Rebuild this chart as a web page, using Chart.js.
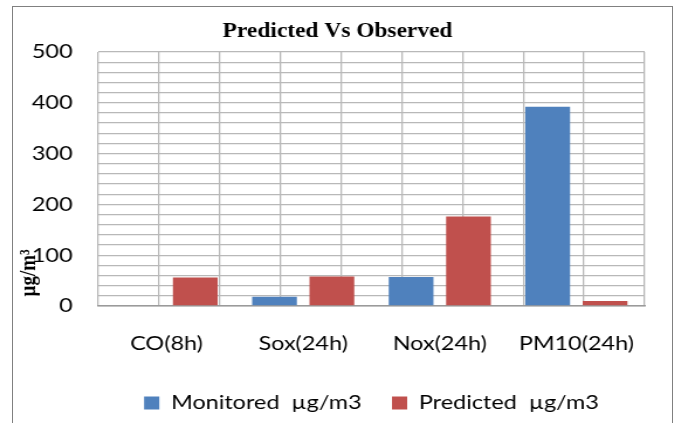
<!DOCTYPE html>
<html>
<head>
<meta charset="utf-8">
<script src="https://cdn.jsdelivr.net/npm/chart.js@4/dist/chart.umd.min.js"></script>
<style>
    body { margin: 0; background: #fff; }
    #page { position: relative; width: 675px; height: 423px; overflow: hidden; }
    #frame { position: absolute; left: 12px; top: 6px; width: 659px; height: 440px; border: 1.5px solid #808080; }
    /* the original picture is stretched sideways, so the canvas is too */
    #wrap { position: absolute; left: 0; top: 0; transform: scaleX(1.17); transform-origin: 0 0; }
</style>
</head>
<body>
<div id="page">
    <div id="frame"></div>
    <div id="wrap"><canvas id="chart" width="577" height="423"></canvas></div>
</div>
<script>
// Data
const categories = ['CO(8h)', 'Sox(24h)', 'Nox(24h)', 'PM10(24h)'];
const monitored = [0, 18, 57, 392];
const predicted = [56, 58, 176, 10];
const seriesNames = ['Monitored  µg/m3', 'Predicted  µg/m3'];
const yTicks = [0, 100, 200, 300, 400, 500];

document.addEventListener('DOMContentLoaded', function() {
    const ctx = document.getElementById('chart').getContext('2d');
    const gridColor = '#b8b8b8';

    Chart.defaults.color = '#000';
    Chart.defaults.font.family = 'Lato';

    new Chart(ctx, {
        type: 'bar',
        data: {
            labels: categories,
            datasets: [{
                label: seriesNames[0],
                data: monitored,
                backgroundColor: '#4f81bd',
                categoryPercentage: 0.84,
                barPercentage: 0.78
            }, {
                label: seriesNames[1],
                data: predicted,
                backgroundColor: '#c0504d',
                categoryPercentage: 0.84,
                barPercentage: 0.78
            }]
        },
        options: {
            responsive: false,
            devicePixelRatio: 1,
            animation: false,
            layout: { padding: 0 },
            plugins: {
                title: {
                    display: true,
                    text: 'Predicted Vs Observed',
                    font: { family: 'Liberation Serif', size: 20, weight: 'bold' },
                    padding: { top: 20, bottom: 8 }
                },
                legend: {
                    position: 'bottom',
                    fullSize: false,
                    labels: {
                        boxWidth: 13,
                        boxHeight: 13,
                        padding: 26,
                        font: { size: 20 }
                    }
                },
                tooltip: { enabled: false }
            },
            scales: {
                x: {
                    grid: { display: false },
                    border: { color: '#9a9a9a', width: 1.5 },
                    ticks: { padding: 18, font: { size: 20 } },
                    afterFit: function(scale) { scale.height = 61; }
                },
                x2: {
                    type: 'linear',
                    position: 'top',
                    min: 0,
                    max: categories.length * 2,
                    grid: { color: gridColor, lineWidth: 1.3, drawTicks: false },
                    border: { display: false },
                    ticks: { display: false, stepSize: 1 },
                    afterFit: function(scale) { scale.height = 0; }
                },
                y: {
                    min: yTicks[0],
                    max: yTicks[yTicks.length - 1],
                    grid: { color: gridColor, lineWidth: 1.3, drawTicks: false },
                    border: { display: false },
                    ticks: {
                        stepSize: 20,
                        autoSkip: false,
                        padding: 22,
                        font: { size: 20 },
                        callback: function(value) {
                            return yTicks.includes(value) ? value : '';
                        }
                    },
                    title: {
                        display: true,
                        text: '  µg/m³',
                        align: 'start',
                        font: { family: 'Liberation Serif', size: 19, weight: 'bold' },
                        padding: { top: 14, bottom: 0 }
                    },
                    afterFit: function(scale) { scale.width = 84; }
                },
                // empty right-hand axis, only keeps space at the right of the plot
                yRight: {
                    type: 'linear',
                    position: 'right',
                    grid: { display: false },
                    border: { display: false },
                    ticks: { display: false },
                    afterFit: function(scale) { scale.width = 26; }
                }
            }
        }
    });
});
</script>
</body>
</html>
